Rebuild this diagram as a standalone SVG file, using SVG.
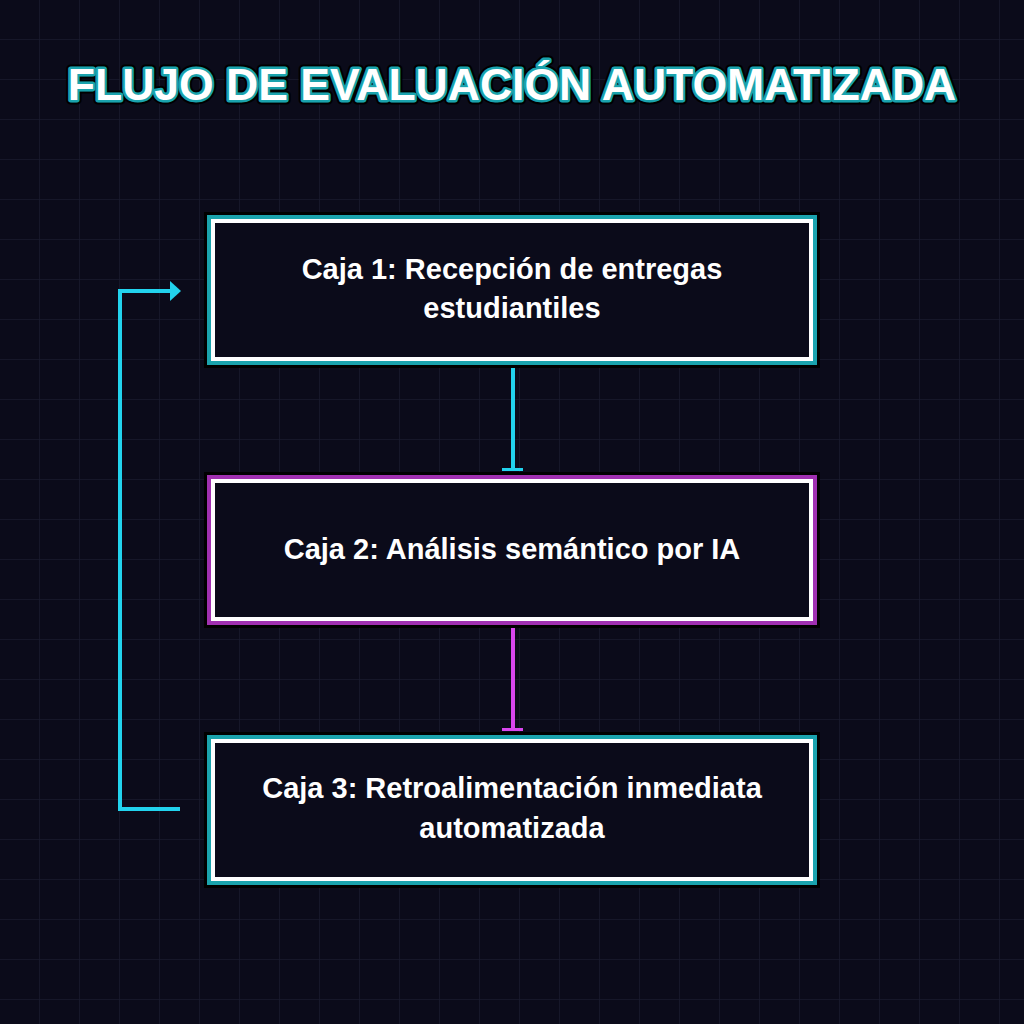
<svg xmlns="http://www.w3.org/2000/svg" width="1024" height="1024" viewBox="0 0 1024 1024">
<defs>
<pattern id="grid" width="40" height="40" patternUnits="userSpaceOnUse"><path d="M40 0V40H0" fill="none" stroke="#191a2e" stroke-width="1.5"/></pattern>
<marker id="tbarC" markerWidth="22" markerHeight="6" refX="11" refY="4" orient="auto" markerUnits="userSpaceOnUse" viewBox="0 0 22 6"><rect x="0" y="2.5" width="22" height="3" fill="#22d3ee" transform="rotate(0)"/></marker>
<marker id="tbarM" markerWidth="22" markerHeight="6" refX="11" refY="4" orient="auto" markerUnits="userSpaceOnUse" viewBox="0 0 22 6"><rect x="0" y="2.5" width="22" height="3" fill="#d946ef"/></marker>
<marker id="arr" markerWidth="12" markerHeight="20" refX="10" refY="10" orient="auto" markerUnits="userSpaceOnUse" viewBox="0 0 12 20"><path d="M0 0L11 10L0 20Z" fill="#22d3ee"/></marker>
</defs>
<style>
.t{font-family:"Liberation Sans",Arial,sans-serif;font-weight:bold;fill:#fff;text-anchor:middle}
.box{fill:#0b0b1a;stroke:#fff;stroke-width:4}
</style>
<rect width="1024" height="1024" fill="#0b0b1a"/>
<rect width="1024" height="1024" fill="url(#grid)"/>
<text x="512" y="100" class="t" font-size="44.5" stroke="#000" stroke-width="9" stroke-linejoin="round">FLUJO DE EVALUACIÓN AUTOMATIZADA</text>
<text x="512" y="100" class="t" font-size="44.5" stroke="#1aa3ad" stroke-width="5" stroke-linejoin="round">FLUJO DE EVALUACIÓN AUTOMATIZADA</text>
<text x="512" y="100" class="t" font-size="44.5">FLUJO DE EVALUACIÓN AUTOMATIZADA</text>
<g id="connectors" fill="none" stroke-width="4">
<path d="M513 360V470" stroke="#22d3ee"/>
<rect x="502" y="468" width="21" height="3" fill="#22d3ee" stroke="none"/>
<path d="M513 620V730" stroke="#d946ef"/>
<rect x="502" y="728" width="21" height="3" fill="#d946ef" stroke="none"/>
<path d="M180 809H120V291H170" stroke="#22d3ee"/>
<path d="M170 281L181 291L170 301Z" fill="#22d3ee" stroke="none"/>
</g>
<g id="box1">
<rect x="206" y="214" width="612" height="152" fill="none" stroke="#000" stroke-width="4"/>
<rect x="209" y="217" width="606" height="146" fill="none" stroke="#1aa3ad" stroke-width="4"/>
<rect x="213" y="221" width="598" height="138" class="box"/>
<text x="512" y="279" class="t" font-size="29">Caja 1: Recepción de entregas</text>
<text x="512" y="318" class="t" font-size="29">estudiantiles</text>
</g>
<g id="box2">
<rect x="206" y="474" width="612" height="152" fill="none" stroke="#000" stroke-width="4"/>
<rect x="209" y="477" width="606" height="146" fill="none" stroke="#a030b0" stroke-width="4"/>
<rect x="213" y="481" width="598" height="138" class="box"/>
<text x="512" y="559" class="t" font-size="29">Caja 2: Análisis semántico por IA</text>
</g>
<g id="box3">
<rect x="206" y="734" width="612" height="152" fill="none" stroke="#000" stroke-width="4"/>
<rect x="209" y="737" width="606" height="146" fill="none" stroke="#1aa3ad" stroke-width="4"/>
<rect x="213" y="741" width="598" height="138" class="box"/>
<text x="512" y="798" class="t" font-size="29">Caja 3: Retroalimentación inmediata</text>
<text x="512" y="838" class="t" font-size="29">automatizada</text>
</g>
</svg>
